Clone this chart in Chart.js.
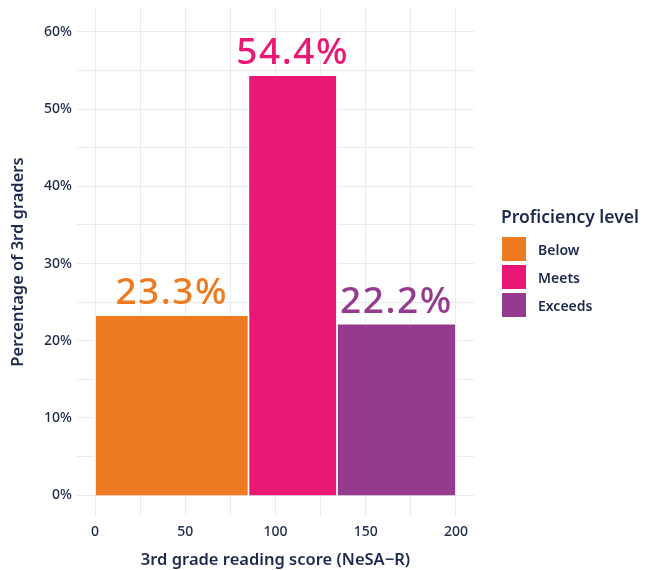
<!DOCTYPE html>
<html>
<head>
<meta charset="utf-8">
<script src="https://cdn.jsdelivr.net/npm/chart.js@4"></script>
<style>
  body { margin: 0; background: #fff; }
  #wrap { position: relative; width: 654px; height: 570px; }
  #legend { position: absolute; left: 501px; top: 204px; font-family: "Noto Sans", sans-serif; color: #1c2a4d; }
  #legend .titulo { font-size: 17.5px; font-weight: 600; margin-bottom: 7px; }
  #legend .item { display: flex; align-items: center; height: 28px; font-size: 14px; font-weight: 600; }
  #legend .caja { width: 26px; height: 26px; margin-right: 11px; border: 1px solid #fff; box-sizing: border-box; }
</style>
</head>
<body>
<div id="wrap">
  <canvas id="grafica" width="654" height="570"></canvas>
  <div id="legend"></div>
</div>
<script>
// Niveles y rangos de puntaje (NeSA-R)
const niveles = ['Below', 'Meets', 'Exceeds'];
const desde = [0, 85, 134];
const hasta = [85, 134, 200];
const porcentajes = [23.3, 54.4, 22.2];
const colores = ['#ee7a22', '#ea1874', '#953a8e'];
const ticksX = [0, 25, 50, 75, 100, 125, 150, 175, 200];
const ticksY = [0, 5, 10, 15, 20, 25, 30, 35, 40, 45, 50, 55, 60];

const navy = '#1c2a4d';
const fuente = '"Noto Sans", sans-serif';

// cada barra es un rectangulo relleno hasta el origen
const datasets = niveles.map((n, i) => ({
  label: n,
  data: [
    { x: desde[i], y: 0 },
    { x: desde[i], y: porcentajes[i] },
    { x: hasta[i], y: porcentajes[i] },
    { x: hasta[i], y: 0 }
  ],
  backgroundColor: colores[i],
  borderColor: '#ffffff',
  borderWidth: 1.5,
  fill: 'origin',
  pointRadius: 0,
  tension: 0
}));

// etiquetas de porcentaje encima de cada barra
const etiquetas = {
  id: 'etiquetas',
  afterDatasetsDraw(chart) {
    const { ctx, scales: { x, y } } = chart;
    ctx.save();
    ctx.font = '500 37px ' + fuente;
    ctx.letterSpacing = '1.5px';
    ctx.textAlign = 'center';
    ctx.textBaseline = 'alphabetic';
    porcentajes.forEach((v, i) => {
      ctx.fillStyle = colores[i];
      const cx = x.getPixelForValue((desde[i] + hasta[i]) / 2);
      ctx.fillText(v.toFixed(1) + '%', cx, y.getPixelForValue(v) - 11);
    });
    ctx.restore();
  }
};

new Chart(document.getElementById('grafica'), {
  type: 'line',
  data: { datasets },
  options: {
    responsive: false,
    animation: false,
    layout: { padding: { top: 8, right: 180, left: 0, bottom: 0 } },
    plugins: { legend: { display: false }, tooltip: { enabled: false } },
    scales: {
      x: {
        type: 'linear',
        min: -10,
        max: 210,
        afterBuildTicks: s => { s.ticks = ticksX.map(v => ({ value: v })); },
        afterFit: s => { s.height = 54; s.paddingLeft = 0; s.paddingRight = 0; },
        grid: { color: '#e9ebef', lineWidth: 1, drawTicks: false },
        border: { display: false },
        ticks: {
          padding: 8,
          color: navy,
          font: { family: fuente, size: 14, weight: 500 },
          callback: v => (v % 50 === 0 ? v : '')
        },
        title: {
          display: true,
          text: '3rd grade reading score (NeSA\u2212R)',
          color: navy,
          font: { family: fuente, size: 16.5, weight: 600 },
          padding: { top: 3, bottom: 0 }
        }
      },
      y: {
        min: -2.7,
        max: 63.1,
        afterBuildTicks: s => { s.ticks = ticksY.map(v => ({ value: v })); },
        afterFit: s => { s.width = 77; s.paddingTop = 0; s.paddingBottom = 0; },
        grid: { color: '#e9ebef', lineWidth: 1, drawTicks: false },
        border: { display: false },
        ticks: {
          padding: 5,
          color: navy,
          font: { family: fuente, size: 14, weight: 500 },
          callback: v => (v % 10 === 0 ? v + '%' : '')
        },
        title: {
          display: true,
          text: 'Percentage of 3rd graders',
          color: navy,
          font: { family: fuente, size: 16.5, weight: 600 },
          padding: { top: 8, bottom: 0 }
        }
      }
    }
  },
  plugins: [etiquetas]
});

// leyenda
const leyenda = document.getElementById('legend');
leyenda.innerHTML = '<div class="titulo">Proficiency level</div>' +
  niveles.map((n, i) =>
    `<div class="item"><div class="caja" style="background:${colores[i]}"></div>${n}</div>`
  ).join('');
</script>
</body>
</html>
